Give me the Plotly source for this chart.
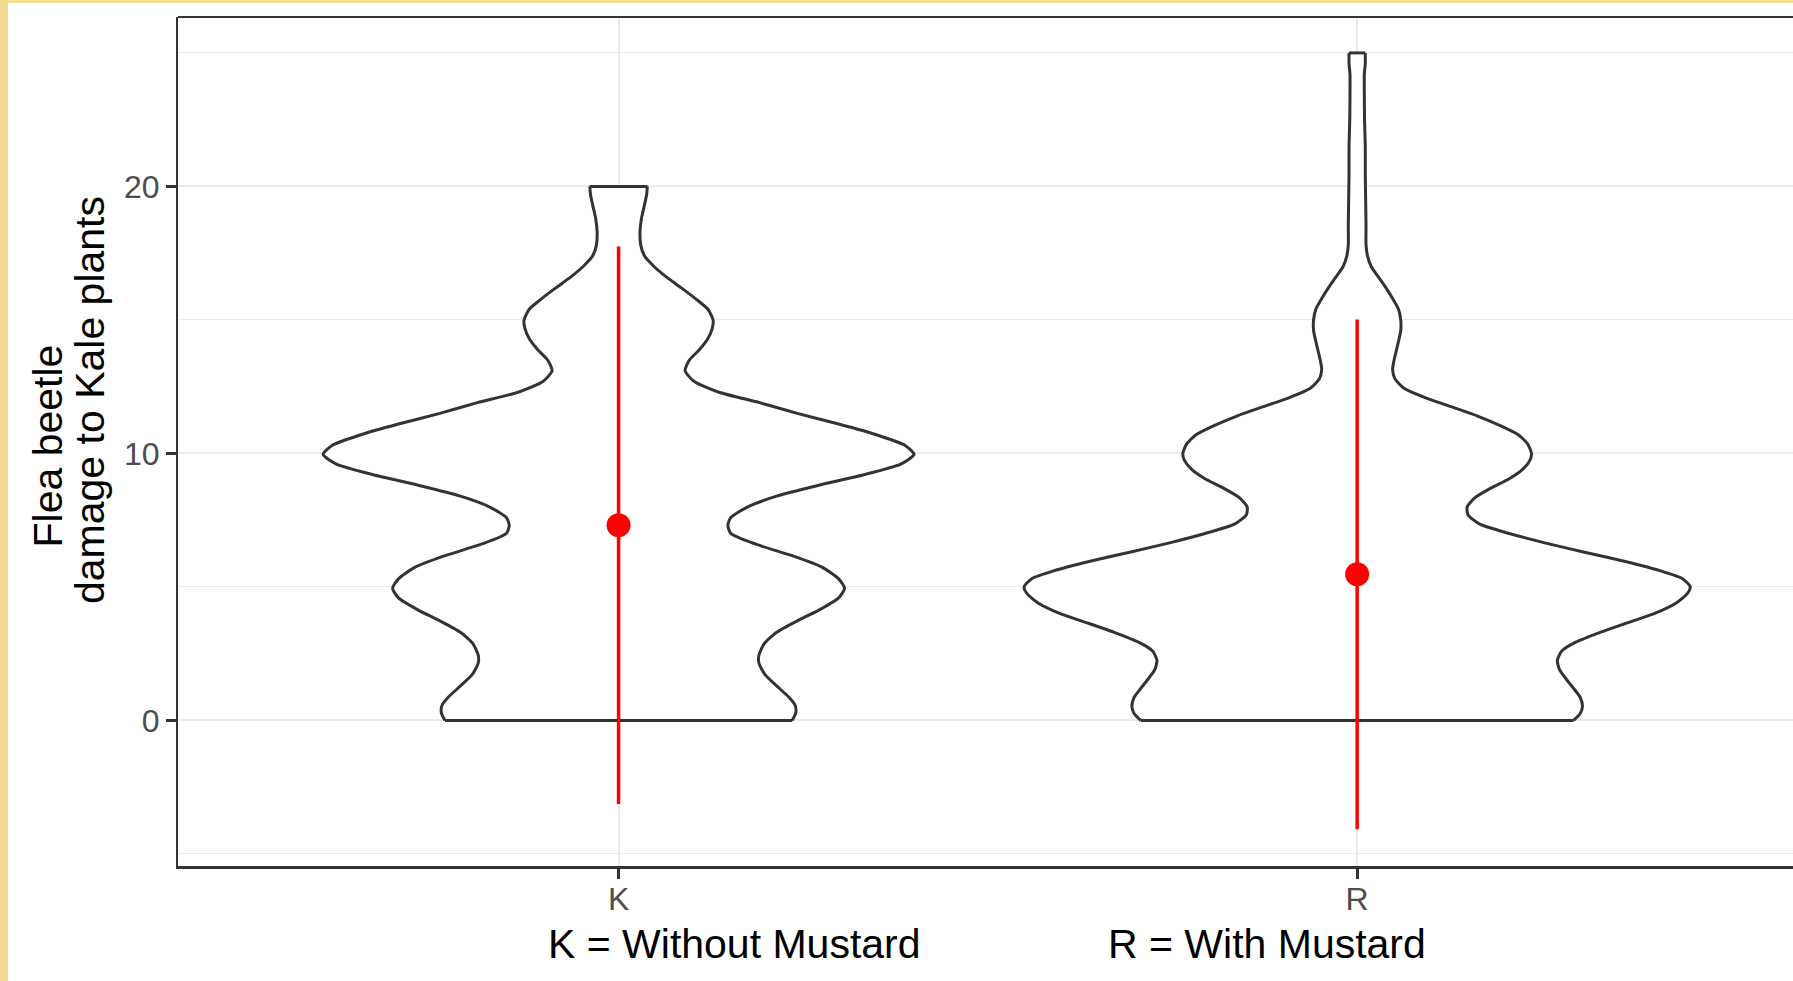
import plotly.graph_objects as go

# ---------------- data ----------------
groups = ["K", "R"]
group_pos = [1, 2]
means = [7.31, 5.47]
sds = [10.44, 9.55]

# violin outline profiles (damage value, half-width in category units)
k_y = [0, 0.29, 0.57, 0.86, 1.29, 1.72, 2.15, 2.44, 2.87, 3.30, 3.73, 4.16, 4.59, 4.95,
       5.3, 5.73, 6.16, 6.6, 7.0, 7.31, 7.6, 8.0, 8.4, 8.8, 9.2, 9.6, 9.96, 10.3, 10.7,
       11.1, 11.5, 11.9, 12.3, 12.7, 13.1, 13.5, 13.9, 14.3, 14.7, 15.0, 15.4, 15.8, 16.2,
       16.6, 17.0, 17.4, 17.8, 18.3, 18.8, 19.3, 19.7, 20.0]
k_hw = [0.235, 0.240, 0.239, 0.231, 0.214, 0.198, 0.190, 0.190, 0.197, 0.214, 0.242, 0.273,
        0.298, 0.306, 0.298, 0.276, 0.236, 0.186, 0.152, 0.148, 0.152, 0.175, 0.214, 0.270,
        0.332, 0.382, 0.400, 0.388, 0.349, 0.298, 0.242, 0.191, 0.135, 0.102, 0.090, 0.096,
        0.110, 0.121, 0.127, 0.128, 0.121, 0.104, 0.085, 0.065, 0.048, 0.035, 0.030, 0.029,
        0.031, 0.035, 0.038, 0.039]

r_y = [0, 0.26, 0.52, 0.86, 1.2, 1.55, 1.9, 2.25, 2.6, 2.93, 3.3, 3.63, 4.0, 4.4, 4.75,
       5.0, 5.3, 5.6, 5.95, 6.3, 6.65, 7.0, 7.35, 7.7, 8.0, 8.35, 8.7, 9.05, 9.4, 9.75,
       10.0, 10.35, 10.7, 11.05, 11.4, 11.75, 12.1, 12.45, 12.8, 13.15, 13.5, 13.85, 14.2,
       14.6, 15.0, 15.4, 15.8, 16.2, 16.6, 17.0, 17.4, 17.8, 18.5, 19.5, 20.5, 21.5, 22.5,
       23.5, 24.2, 24.6, 25.0]
r_hw = [0.293, 0.302, 0.305, 0.302, 0.293, 0.283, 0.274, 0.271, 0.277, 0.296, 0.329, 0.363,
        0.402, 0.432, 0.447, 0.451, 0.441, 0.411, 0.363, 0.308, 0.254, 0.206, 0.166, 0.150,
        0.149, 0.160, 0.181, 0.206, 0.224, 0.234, 0.236, 0.231, 0.218, 0.193, 0.163, 0.127,
        0.091, 0.063, 0.051, 0.048, 0.050, 0.053, 0.056, 0.059, 0.059, 0.056, 0.048, 0.039,
        0.029, 0.019, 0.014, 0.012, 0.012, 0.0115, 0.011, 0.011, 0.010, 0.0097, 0.0097,
        0.011, 0.011]

y_ticks = [0, 10, 20]
y_minor = [-5, 5, 15, 25]
x_title_left = "K = Without Mustard"
x_title_right = "R = With Mustard"
y_title_1 = "Flea beetle"
y_title_2 = "damage to Kale plants"

# ---------------- figure ----------------
W, H = 1793, 981
ML, MR, MT, MB = 178, 0, 17, 115
PW, PH = W - ML - MR, H - MT - MB
FONT = "Liberation Sans, Arial, sans-serif"
OUTLINE = dict(color="#333333", width=3)

fig = go.Figure()

for pos, ys, hws in [(group_pos[0], k_y, k_hw), (group_pos[1], r_y, r_hw)]:
    right_x = [pos + h for h in hws]
    left_x = [pos - h for h in hws]
    # white body (hides grid lines inside)
    fig.add_trace(go.Scatter(
        x=right_x + left_x[::-1], y=list(ys) + list(ys)[::-1],
        mode="lines", fill="toself", fillcolor="white",
        line=dict(width=0, color="white"), hoverinfo="skip", showlegend=False))
    # smooth sides
    for sx in (right_x, left_x):
        fig.add_trace(go.Scatter(
            x=sx, y=ys, mode="lines",
            line=dict(color=OUTLINE["color"], width=OUTLINE["width"],
                      shape="spline", smoothing=0.6),
            hoverinfo="skip", showlegend=False))
    # flat bottom and top edges
    for i in (0, -1):
        fig.add_trace(go.Scatter(
            x=[left_x[i], right_x[i]], y=[ys[i], ys[i]], mode="lines",
            line=OUTLINE, hoverinfo="skip", showlegend=False))

fig.add_trace(go.Scatter(
    x=group_pos, y=means, mode="markers",
    marker=dict(color="#FF0000", size=24),
    error_y=dict(type="data", array=sds, width=0, thickness=3.5, color="#FF0000"),
    showlegend=False))

def px_x(px):
    return (px - ML) / PW

def px_y(py):
    return (H - MB - py) / PH

TF = dict(size=41, color="black", family=FONT)
annotations = [
    dict(text=x_title_left, x=1.157, xref="x", y=px_y(944), yref="paper",
         xanchor="center", yanchor="middle", showarrow=False, font=TF),
    dict(text=x_title_right, x=1.878, xref="x", y=px_y(944), yref="paper",
         xanchor="center", yanchor="middle", showarrow=False, font=TF),
    dict(text=y_title_1, x=px_x(47.5), xref="paper", y=px_y(446), yref="paper",
         xanchor="center", yanchor="middle", showarrow=False, textangle=-90, font=TF),
    dict(text=y_title_2, x=px_x(90), xref="paper", y=px_y(400), yref="paper",
         xanchor="center", yanchor="middle", showarrow=False, textangle=-90, font=TF),
]

shapes = [
    # top panel border
    dict(type="line", xref="paper", yref="paper", x0=0, x1=1, y0=1, y1=1,
         line=dict(color="#333333", width=2)),
    # screenshot frame strips
    dict(type="rect", xref="paper", yref="paper", x0=px_x(0), x1=px_x(8),
         y0=px_y(H), y1=px_y(0), fillcolor="#F3DC92", line=dict(width=0), layer="below"),
    dict(type="rect", xref="paper", yref="paper", x0=px_x(0), x1=px_x(W),
         y0=px_y(3), y1=px_y(0), fillcolor="#F3DC92", line=dict(width=0), layer="below"),
]

fig.update_layout(
    width=W, height=H,
    margin=dict(l=ML, r=MR, t=MT, b=MB, pad=0),
    paper_bgcolor="white", plot_bgcolor="white",
    font=dict(family=FONT),
    showlegend=False,
    annotations=annotations,
    shapes=shapes,
    xaxis=dict(range=[0.4035, 2.5901], tickvals=group_pos, ticktext=groups,
               showgrid=True, gridcolor="#EBEBEB", gridwidth=2, zeroline=False,
               showline=True, linecolor="#333333", linewidth=3,
               ticks="outside", ticklen=10, tickwidth=2.5, tickcolor="#333333",
               tickfont=dict(size=32, color="#4D4D4D", family=FONT),
               ticklabelstandoff=-7),
    yaxis=dict(range=[-5.453, 26.345], tickvals=y_ticks,
               showgrid=True, gridcolor="#EBEBEB", gridwidth=2, zeroline=False,
               showline=True, linecolor="#333333", linewidth=2,
               ticks="outside", ticklen=10, tickwidth=2.5, tickcolor="#333333",
               tickfont=dict(size=32, color="#4D4D4D", family=FONT),
               ticklabelstandoff=0,
               minor=dict(tickvals=y_minor, showgrid=True, gridcolor="#EBEBEB",
                          gridwidth=1.3, ticks="")),
)

fig.write_html("out.html", config={"displayModeBar": False},
               post_script="document.body.style.margin='0px';")
